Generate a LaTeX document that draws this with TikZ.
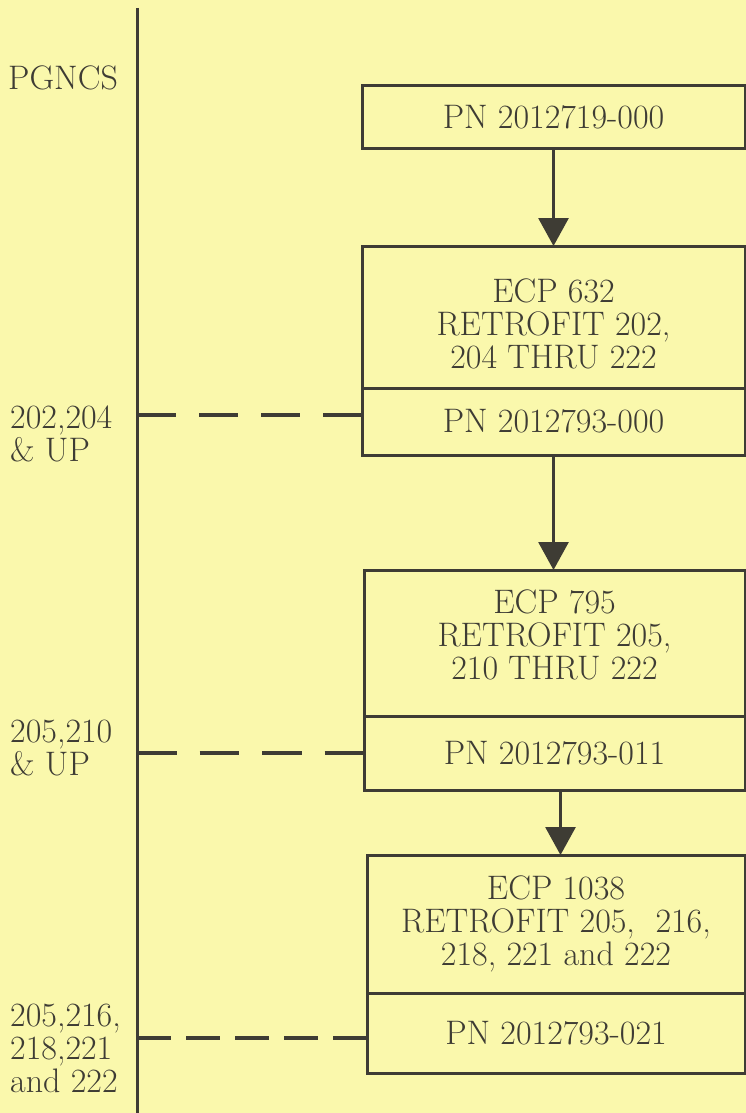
\documentclass[tikz,border=0pt]{standalone}
\usepackage{tikz}
\usetikzlibrary{arrows.meta, positioning}
\definecolor{paper}{RGB}{250,248,172}
\definecolor{ink}{RGB}{62,60,52}

\begin{document}
\begin{tikzpicture}[x=1pt, y=-1pt,
  every node/.style={font=\fontsize{34}{33}\selectfont, text=ink},
  partbox/.style={draw=ink, line width=3pt, outer sep=0pt, inner sep=0pt,
                  minimum width=383pt, align=center},
  label/.style={anchor=west, inner sep=0pt, align=left},
  flow/.style={-{Triangle[width=30pt, length=28pt]}, ink, line width=3pt},
  effect/.style={ink, line width=4pt, dash pattern=#1},
  effect/.default={on 39pt off 23pt}]

  \useasboundingbox (0,0) rectangle (746,1113);
  \fill[paper] (0,0) rectangle (746,1113);

  % ---------- time line ----------
  \coordinate (axtop) at (137,8);
  \coordinate (axbot) at (137,1113);
  \draw[ink, line width=3pt] (axtop) -- (axbot);
  \node[label] (pgncs) at (8,78) {PGNCS};

  % ---------- basic unit ----------
  \node[partbox, anchor=north west, minimum height=62pt] (pn1) at (362,86) {PN 2012719-000};

  % ---------- ECP 632 ----------
  \node[partbox, anchor=north west, minimum height=142pt] (ecp2) at (362,246)
    {\rule{0pt}{37pt}ECP 632\\RETROFIT 202,\\204 THRU 222};
  \node[partbox, below=0pt of ecp2, minimum height=67pt] (pn2) {PN 2012793-000};
  \node[label] (eff2) at (10,434) {202,204\\\& UP};

  % ---------- ECP 795 ----------
  \node[partbox, anchor=north west, minimum width=381pt, minimum height=146pt] (ecp3) at (364,570)
    {ECP 795\\RETROFIT 205,\\210 THRU 222\rule[-16pt]{0pt}{16pt}};
  \node[partbox, below=0pt of ecp3, minimum width=381pt, minimum height=74pt] (pn3) {PN 2012793-011};
  \node[label] (eff3) at (10,748) {205,210\\\& UP};

  % ---------- ECP 1038 ----------
  \node[partbox, anchor=north west, minimum width=378pt, minimum height=138pt] (ecp4) at (367,855)
    {ECP 1038\\RETROFIT 205,\ \ 216,\\218, 221 and 222};
  \node[partbox, below=0pt of ecp4, minimum width=378pt, minimum height=80pt] (pn4) {PN 2012793-021};
  \node[label] (eff4) at (10,1048) {205,216,\\218,221\\and 222};

  % ---------- changes ----------
  \draw[flow] (pn1.south) -- (pn1.south |- ecp2.north);
  \draw[flow] (pn2.south) -- (pn2.south |- ecp3.north);
  \coordinate (a3) at ([xshift=6pt]pn3.south);
  \draw[flow] (a3) -- (a3 |- ecp4.north);

  % ---------- effectivity ----------
  \coordinate (e2) at ([yshift=7pt]pn2.west);
  \draw[effect] (axtop |- e2) -- (e2);
  \draw[effect={on 39.5pt off 23pt}] (axtop |- pn3.west) -- (pn3.west);
  \coordinate (e4) at ([yshift=-5pt]pn4.west);
  \draw[effect={on 34pt off 15pt}] (axtop |- e4) -- (e4);
\end{tikzpicture}
\end{document}
